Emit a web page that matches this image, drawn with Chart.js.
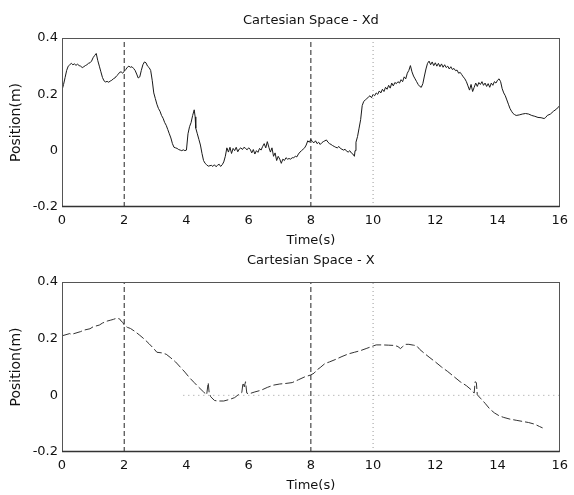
<!DOCTYPE html>
<html><head><meta charset="utf-8">
<script src="https://cdn.jsdelivr.net/npm/chart.js@4.4.1/dist/chart.umd.min.js"></script>
<style>
html,body{margin:0;padding:0;background:#fff;width:574px;height:495px;overflow:hidden}
canvas{position:absolute;left:0}
#c1{top:0}
#c2{top:250px}
</style></head><body>
<canvas id="c1" width="574" height="250"></canvas>
<canvas id="c2" width="574" height="245"></canvas>
<script>
// ---- data ----
const xTickValues = [0, 2, 4, 6, 8, 10, 12, 14, 16];
const yTickValues = [-0.2, 0, 0.2, 0.4];
const yTickLabels = ['-0.2', '0', '0.2', '0.4'];
const markerTimes = [2, 8];
const gridTimes = [10];
const zeroGuideTimes = [3.9, 16];
const titleTop = 'Cartesian Space - Xd';
const titleBottom = 'Cartesian Space - X';
const xLabel = 'Time(s)';
const yLabel = 'Position(m)';

const xdTimes = [0.00,0.05,0.10,0.15,0.20,0.25,0.30,0.35,0.40,0.45,0.50,0.55,0.60,0.65,0.70,0.75,0.80,0.85,0.90,0.95,
1.00,1.05,1.10,1.15,1.20,1.25,1.30,1.35,1.40,1.45,1.50,1.55,1.60,1.65,1.70,1.75,1.80,1.85,1.90,1.95,
2.00,2.05,2.10,2.15,2.20,2.25,2.30,2.35,2.40,2.45,2.50,2.55,2.60,2.65,2.70,2.75,2.80,2.85,2.90,2.95,
3.00,3.05,3.10,3.15,3.20,3.25,3.30,3.35,3.40,3.45,3.50,3.55,3.60,3.65,3.70,3.75,3.80,3.85,3.90,3.95,
4.00,4.05,4.10,4.15,4.20,4.25,4.28,4.30,4.35,4.40,4.45,4.50,4.55,4.60,4.65,4.70,4.80,4.85,4.90,4.95,
5.00,5.05,5.10,5.15,5.20,5.25,5.30,5.35,5.40,5.45,5.50,5.55,5.60,5.65,5.70,5.75,5.80,5.85,5.90,5.95,
6.00,6.05,6.10,6.15,6.20,6.25,6.30,6.35,6.40,6.45,6.50,6.55,6.60,6.65,6.70,6.75,6.80,6.85,6.90,6.95,
7.00,7.05,7.10,7.15,7.20,7.25,7.30,7.35,7.40,7.45,7.50,7.55,7.60,7.65,7.70,7.75,7.80,7.85,7.90,7.95,
8.00,8.05,8.10,8.15,8.20,8.25,8.30,8.35,8.40,8.45,8.50,8.55,8.60,8.65,8.70,8.75,8.80,8.85,8.90,8.95,
9.00,9.05,9.10,9.15,9.20,9.25,9.30,9.35,9.40,9.42,9.45,9.50,9.55,9.60,9.65,9.70,9.75,9.80,9.85,9.90,9.95,
10.00,10.05,10.10,10.15,10.20,10.25,10.30,10.35,10.40,10.45,10.50,10.55,10.60,10.65,10.70,10.75,10.80,10.85,10.90,10.95,
11.00,11.05,11.10,11.15,11.20,11.25,11.30,11.35,11.40,11.45,11.50,11.55,11.60,11.65,11.70,11.75,11.80,11.85,11.90,11.95,
12.00,12.05,12.10,12.15,12.20,12.25,12.30,12.35,12.40,12.45,12.50,12.55,12.60,12.65,12.70,12.75,12.80,12.85,12.90,12.95,
13.00,13.05,13.10,13.15,13.20,13.25,13.30,13.35,13.40,13.45,13.50,13.55,13.60,13.65,13.70,13.75,13.80,13.85,13.90,13.95,
14.00,14.05,14.10,14.15,14.20,14.25,14.30,14.35,14.40,14.45,14.50,14.55,14.60,14.70,14.80,14.90,
15.00,15.10,15.20,15.30,15.40,15.50,15.55,15.60,15.70,15.80,15.90,16.00];
const xdValues = [0.215,0.235,0.260,0.285,0.300,0.305,0.310,0.305,0.308,0.303,0.307,0.302,0.300,0.295,0.298,0.302,0.305,0.310,0.312,0.318,
0.330,0.338,0.345,0.320,0.300,0.280,0.260,0.248,0.244,0.246,0.243,0.247,0.250,0.255,0.258,0.265,0.270,0.278,0.280,0.275,
0.282,0.288,0.296,0.300,0.296,0.298,0.292,0.285,0.272,0.258,0.262,0.285,0.305,0.315,0.312,0.300,0.295,0.285,0.250,0.205,
0.185,0.165,0.150,0.140,0.125,0.115,0.100,0.090,0.075,0.060,0.045,0.025,0.012,0.010,0.008,0.004,0.002,0.000,0.003,0.000,
0.002,0.060,0.085,0.100,0.125,0.145,0.120,0.080,0.060,0.040,0.020,-0.010,-0.035,-0.045,-0.050,-0.055,-0.052,-0.056,-0.050,-0.057,
-0.052,-0.048,-0.056,-0.050,-0.040,-0.020,0.010,-0.005,0.012,-0.010,0.008,0.000,0.012,-0.004,0.006,0.010,0.004,0.012,0.008,0.003,
0.010,0.005,-0.008,0.004,-0.012,0.000,-0.006,0.008,0.002,0.015,0.025,0.010,0.032,0.012,-0.005,0.010,-0.020,-0.008,-0.035,-0.020,
-0.030,-0.045,-0.030,-0.035,-0.025,-0.030,-0.028,-0.030,-0.025,-0.025,-0.020,-0.022,-0.012,-0.005,0.000,0.005,0.010,0.020,0.035,0.030,
0.040,0.032,0.028,0.035,0.025,0.030,0.022,0.028,0.032,0.035,0.038,0.030,0.025,0.022,0.018,0.015,0.012,0.010,0.015,0.008,
0.005,0.002,0.005,-0.002,-0.005,0.000,-0.008,-0.012,-0.020,0.000,0.030,0.050,0.080,0.110,0.160,0.175,0.180,0.185,0.190,0.195,0.188,
0.200,0.195,0.205,0.200,0.212,0.205,0.218,0.210,0.225,0.218,0.232,0.222,0.240,0.230,0.242,0.238,0.245,0.240,0.252,0.245,
0.262,0.255,0.275,0.285,0.302,0.280,0.265,0.255,0.245,0.235,0.228,0.225,0.238,0.265,0.290,0.310,0.318,0.305,0.315,0.302,
0.312,0.300,0.310,0.298,0.308,0.296,0.305,0.295,0.300,0.290,0.298,0.288,0.292,0.284,0.286,0.275,0.278,0.270,0.262,0.255,
0.245,0.230,0.215,0.235,0.210,0.225,0.240,0.228,0.242,0.235,0.245,0.232,0.240,0.228,0.238,0.225,0.240,0.232,0.245,0.240,
0.250,0.255,0.245,0.220,0.205,0.195,0.180,0.165,0.150,0.140,0.132,0.128,0.125,0.127,0.130,0.132,
0.130,0.125,0.122,0.118,0.117,0.114,0.118,0.125,0.130,0.140,0.148,0.160];

const xTimes = [0.00,0.25,0.30,0.60,0.70,0.90,1.00,1.20,1.30,1.45,1.55,1.65,1.75,1.85,1.90,1.95,2.00,2.10,2.20,2.35,
2.50,2.65,2.80,2.95,3.05,3.20,3.35,3.50,3.65,3.80,3.95,4.10,4.25,4.40,4.55,4.65,4.70,4.73,4.78,4.90,
5.00,5.20,5.40,5.55,5.70,5.78,5.82,5.86,5.90,5.94,6.00,6.20,6.40,6.60,6.80,7.00,7.20,7.40,7.60,7.80,
8.00,8.10,8.20,8.30,8.45,8.60,8.80,9.00,9.20,9.40,9.60,9.80,10.00,10.10,10.30,10.50,10.70,10.80,10.88,10.95,
11.05,11.15,11.30,11.40,11.50,11.65,11.80,12.00,12.20,12.40,12.60,12.80,13.00,13.15,13.25,13.28,13.32,13.35,13.45,13.60,
13.75,13.90,14.05,14.20,14.40,14.60,14.80,15.00,15.20,15.35,15.45];
const xValues = [0.210,0.218,0.215,0.225,0.230,0.235,0.242,0.248,0.255,0.262,0.265,0.268,0.272,0.270,0.262,0.258,0.248,0.240,0.236,0.225,
0.212,0.198,0.182,0.165,0.152,0.150,0.145,0.132,0.118,0.100,0.082,0.062,0.045,0.028,0.012,0.002,0.045,0.010,-0.005,-0.018,
-0.020,-0.020,-0.014,-0.008,0.005,0.010,0.045,0.030,0.048,0.008,0.005,0.012,0.018,0.028,0.036,0.040,0.042,0.045,0.055,0.065,
0.072,0.078,0.090,0.098,0.112,0.118,0.127,0.137,0.146,0.152,0.158,0.166,0.174,0.178,0.178,0.177,0.176,0.172,0.165,0.172,
0.180,0.180,0.177,0.175,0.162,0.148,0.135,0.118,0.100,0.084,0.066,0.048,0.034,0.020,0.008,0.048,0.045,0.002,-0.010,-0.028,
-0.048,-0.062,-0.072,-0.078,-0.084,-0.088,-0.092,-0.096,-0.102,-0.110,-0.115];

// ---- rendering ----
const FONT = '"DejaVu Sans", "Liberation Sans", Arial, sans-serif';
const TXT = '#111';

function pairs(ts, vs) { return ts.map((t, i) => ({x: t, y: vs[i]})); }
function vline(t) { return [{x: t, y: yTickValues[0]}, {x: t, y: yTickValues[yTickValues.length - 1]}]; }

function makeChart(id, title, titleOffset, areaTop, areaBottom, times, values, lineStyle, withZeroGuide) {
  const canvas = document.getElementById(id);
  const H = canvas.height;
  const datasets = [];
  gridTimes.forEach(t => datasets.push({data: vline(t), borderColor: '#9a9a9a', borderWidth: 1, borderDash: [1, 3], pointRadius: 0}));
  if (withZeroGuide) datasets.push({data: [{x: zeroGuideTimes[0], y: 0}, {x: zeroGuideTimes[1], y: 0}], borderColor: '#9a9a9a', borderWidth: 1, borderDash: [1, 4], pointRadius: 0});
  markerTimes.forEach(t => datasets.push({data: vline(t), borderColor: '#222', borderWidth: 1, borderDash: [5, 3], pointRadius: 0}));
  datasets.push(Object.assign({data: pairs(times, values), pointRadius: 0, tension: 0}, lineStyle));

  const frame = {
    id: 'frame',
    afterDatasetsDraw(chart) {
      const {ctx, chartArea: a, scales} = chart;
      ctx.save();
      ctx.strokeStyle = '#555';
      ctx.lineWidth = 1;
      ctx.strokeRect(Math.round(a.left) + 0.5, Math.round(a.top) + 0.5, Math.round(a.right - a.left) - 1, Math.round(a.bottom - a.top) - 1);
      ctx.strokeStyle = '#333';
      ctx.lineWidth = 1.5;
      ctx.beginPath();
      ctx.moveTo(a.left, a.bottom - 0.5); ctx.lineTo(a.right, a.bottom - 0.5);
      ctx.stroke();
      ctx.fillStyle = TXT;
      ctx.font = '13px ' + FONT;
      ctx.textAlign = 'center';
      ctx.textBaseline = 'middle';
      ctx.fillText(title, (a.left + a.right) / 2, a.top - titleOffset);
      ctx.restore();
    }
  };

  return new Chart(canvas, {
    type: 'line',
    data: {datasets},
    plugins: [frame],
    options: {
      responsive: false,
      animation: false,
      devicePixelRatio: 1,
      layout: {padding: {top: areaTop, right: 7, left: 0, bottom: 0}},
      plugins: {legend: {display: false}, tooltip: {enabled: false}, title: {display: false}},
      scales: {
        x: {
          type: 'linear', min: xTickValues[0], max: xTickValues[xTickValues.length - 1],
          grid: {display: false, drawTicks: false},
          border: {display: false},
          afterBuildTicks: s => { s.ticks = xTickValues.map(v => ({value: v})); },
          afterFit: s => { s.height = H - areaBottom; },
          ticks: {autoSkip: false, maxRotation: 0, padding: 6, color: TXT, font: {family: FONT, size: 13},
                  callback: v => String(v)},
          title: {display: true, text: xLabel, color: TXT, font: {family: FONT, size: 13}, padding: {top: 0, bottom: 2}}
        },
        y: {
          type: 'linear', min: yTickValues[0], max: yTickValues[yTickValues.length - 1],
          grid: {display: false, drawTicks: false},
          border: {display: false},
          afterBuildTicks: s => { s.ticks = yTickValues.map(v => ({value: v})); },
          afterFit: s => { s.width = 62; },
          ticks: {autoSkip: false, padding: 4, color: TXT, font: {family: FONT, size: 13},
                  callback: (v) => { const i = yTickValues.findIndex(t => Math.abs(t - v) < 1e-9); return i >= 0 ? yTickLabels[i] : ''; }},
          title: {display: true, text: yLabel, color: TXT, font: {family: FONT, size: 14}, padding: {top: 8, bottom: 0}}
        }
      }
    }
  });
}

makeChart('c1', titleTop, 17, 38, 207, xdTimes, xdValues, {borderColor: '#1a1a1a', borderWidth: 1}, false);
makeChart('c2', titleBottom, 21, 32, 202, xTimes, xValues, {borderColor: '#333', borderWidth: 1, borderDash: [9, 3]}, true);
</script>
</body></html>
